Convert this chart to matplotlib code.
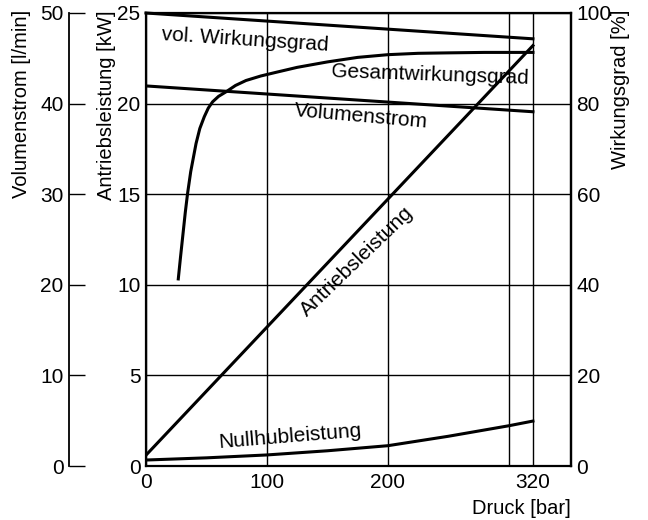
import matplotlib
matplotlib.use("Agg")
import matplotlib.pyplot as plt

plt.rcParams['font.family'] = ['Liberation Sans', 'DejaVu Sans']
plt.rcParams['font.size'] = 15

# Werte
druck_lin = [0, 320]
vol_wirkungsgrad = [100.0, 94.3]          # %
volumenstrom = [41.95, 39.1]               # l/min
antriebsleistung = [0.6, 23.2]             # kW

druck_ges = [26.7, 28.5, 30.5, 32.5, 34.4, 37, 41.4, 44.5, 48.2, 51.5, 55.1, 60, 66.2,
             74, 82.7, 95, 107.5, 125, 150, 175, 200, 225, 250, 280, 320]
gesamtwirkungsgrad = [41.3, 46.0, 51.0, 56.0, 60.2, 65.0, 71.2, 74.5, 77.1, 79.0, 80.4, 81.6, 82.6,
                      84.0, 85.1, 86.1, 86.9, 88.0, 89.2, 90.2, 90.8, 91.1, 91.2, 91.3, 91.3]

druck_null = [0, 50, 100, 150, 200, 250, 300, 320]
nullhubleistung = [0.33, 0.45, 0.61, 0.84, 1.12, 1.64, 2.22, 2.48]

x_ticks = [0, 100, 200, 300, 320]
x_labels = ['0', '100', '200', '', '320']
kw_ticks = [0, 5, 10, 15, 20, 25]
vol_ticks = [0, 10, 20, 30, 40, 50]
eta_ticks = [0, 20, 40, 60, 80, 100]

W, H = 648, 520
fig = plt.figure(figsize=(W / 100, H / 100), dpi=100)
ax = fig.add_axes([146 / W, 54 / H, 425 / W, 453 / H])
ax.set_xlim(0, 351.5)
ax.set_ylim(0, 25)
ax.set_xticks(x_ticks)
ax.set_xticklabels(x_labels)
ax.set_yticks(kw_ticks)
ax.tick_params(length=0, labelsize=15)
ax.tick_params(axis='x', pad=5)
ax.tick_params(axis='y', pad=4)
ax.grid(True, color='black', lw=1.0)
ax.set_axisbelow(True)
for s in ax.spines.values():
    s.set_linewidth(1.6)

# rechte Achse: Wirkungsgrad
axr = ax.twinx()
axr.set_ylim(0, 100)
axr.set_yticks(eta_ticks)
axr.tick_params(length=0, pad=4, labelsize=15)
for k in ['left', 'top', 'bottom']:
    axr.spines[k].set_visible(False)
axr.spines['right'].set_linewidth(1.6)

# linke äußere Achse: Volumenstrom
axv = ax.twinx()
axv.set_ylim(0, 50)
axv.spines['left'].set_position(('axes', -0.181))
axv.spines['left'].set_linewidth(1.3)
axv.yaxis.set_ticks_position('left')
axv.yaxis.set_label_position('left')
axv.set_yticks(vol_ticks)
axv.tick_params(direction='in', length=11.5, width=1.0, pad=4, labelsize=15)
for k in ['right', 'top', 'bottom']:
    axv.spines[k].set_visible(False)

lw = 2.2
ax.plot(druck_lin, antriebsleistung, color='black', lw=lw)
ax.plot(druck_null, nullhubleistung, color='black', lw=lw)
axr.plot(druck_lin, vol_wirkungsgrad, color='black', lw=lw, clip_on=False)
axr.plot(druck_ges, gesamtwirkungsgrad, color='black', lw=lw)
axv.plot(druck_lin, volumenstrom, color='black', lw=lw)

# Kurvenbeschriftungen
lab = dict(ha='center', va='center', rotation_mode='anchor', fontsize=15)
ax.text(82, 23.5, 'vol. Wirkungsgrad', rotation=-3.7, **lab)
ax.text(235, 21.6, 'Gesamtwirkungsgrad', rotation=-2, **lab)
ax.text(178, 19.3, 'Volumenstrom', rotation=-5, **lab)
ax.text(174, 11.3, 'Antriebsleistung', rotation=44, **lab)
ax.text(119, 1.6, 'Nullhubleistung', rotation=4.7, **lab)

# Achsenbeschriftungen
fig.text(22 / W, 1 - 10 / H, 'Volumenstrom [l/min]', rotation=90, ha='center', va='top', fontsize=14.5)
fig.text(106 / W, 1 - 10 / H, 'Antriebsleistung [kW]', rotation=90, ha='center', va='top', fontsize=14.5)
fig.text(621 / W, 1 - 10 / H, 'Wirkungsgrad [%]', rotation=90, ha='center', va='top', fontsize=14.5)
fig.text(571 / W, 1 - 508 / H, 'Druck [bar]', ha='right', va='center', fontsize=14.5)

fig.savefig('out.png', dpi=100)
